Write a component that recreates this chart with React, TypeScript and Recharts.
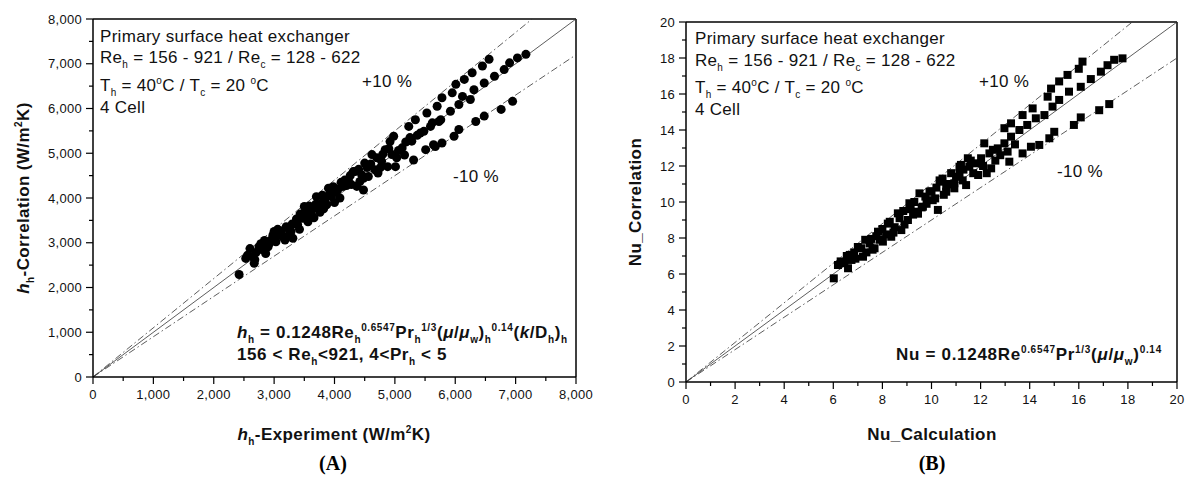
import React from 'react';
import { ScatterChart, Scatter, XAxis, YAxis, ZAxis, ReferenceLine } from 'recharts';

// (A) h_h experiment vs correlation, W/m2K
const hPoints: [number, number][] = [
  [2420, 2290], [2530, 2650], [2560, 2720], [2600, 2870], [2640, 2690], [2670, 2540],
  [2680, 2620], [2700, 2780], [2750, 2910], [2780, 2980], [2800, 2850], [2840, 3050],
  [2860, 2760], [2900, 2910], [2920, 2980], [2950, 3060], [2980, 3170], [3000, 3250],
  [3030, 3020], [3060, 3300], [3080, 3180], [3120, 3260], [3140, 3130], [3180, 3060],
  [3200, 3360], [3230, 3150], [3250, 3290], [3280, 3250], [3300, 3420], [3310, 3100],
  [3350, 3440], [3370, 3530], [3390, 3400], [3420, 3300], [3430, 3640], [3460, 3560],
  [3480, 3550], [3500, 3810], [3520, 3680], [3540, 3600], [3560, 3470], [3580, 3820],
  [3600, 3700], [3620, 3620], [3640, 3760], [3660, 3560], [3690, 3860], [3700, 4030],
  [3730, 3770], [3760, 3680], [3780, 3880], [3800, 4060], [3820, 3760], [3840, 3960],
  [3870, 3850], [3900, 4220], [3920, 4080], [3950, 4030], [3980, 4250], [4000, 3900],
  [4030, 4140], [4060, 4200], [4090, 4000], [4110, 4350], [4140, 4260], [4170, 4400],
  [4200, 4280], [4230, 4410], [4260, 4500], [4280, 4300], [4310, 4590], [4340, 4590],
  [4370, 4260], [4400, 4640], [4420, 4370], [4450, 4520], [4480, 4180], [4480, 4440],
  [4500, 4780], [4540, 4680], [4560, 4480], [4600, 4760], [4620, 4970], [4670, 4630],
  [4700, 4900], [4720, 4560], [4760, 4680], [4780, 4820], [4800, 4980], [4840, 5080],
  [4880, 4700], [4900, 5100], [4920, 5260], [4950, 4970], [4980, 5380], [5010, 4700],
  [5030, 4900], [5060, 5060], [5120, 5120], [5160, 4960], [5180, 5250], [5230, 5600],
  [5250, 5350], [5280, 5270], [5310, 4850], [5340, 5750], [5370, 5400], [5420, 5450],
  [5480, 5490], [5510, 5080], [5530, 5900], [5590, 5600], [5620, 5680], [5640, 5190],
  [5670, 5150], [5700, 6050], [5730, 5710], [5760, 5750], [5780, 5230], [5780, 6240],
  [5920, 5940], [5950, 6350], [5980, 5380], [6010, 6540], [6060, 5530], [6060, 6090],
  [6120, 6270], [6150, 6650], [6250, 6200], [6280, 6800], [6310, 6420], [6340, 5710],
  [6450, 6950], [6480, 6570], [6480, 5830], [6560, 7100], [6650, 6720], [6760, 5980],
  [6810, 6870], [6900, 7020], [6950, 6160], [7030, 7130], [7170, 7210],
];

// (B) Nu calculation vs correlation
const nuPoints: [number, number][] = [
  [6.02, 5.76], [6.19, 6.5], [6.3, 6.7], [6.45, 6.6], [6.55, 7.0], [6.6, 6.32],
  [6.67, 7.06], [6.74, 6.78], [6.85, 7.2], [6.9, 6.85], [7.0, 7.5], [7.14, 7.43],
  [7.21, 6.96], [7.3, 7.9], [7.35, 7.2], [7.48, 7.7], [7.55, 7.95], [7.6, 7.35],
  [7.68, 7.43], [7.75, 8.1], [7.82, 8.35], [7.9, 7.9], [8.0, 8.5], [8.02, 7.8],
  [8.15, 8.2], [8.22, 8.8], [8.3, 8.9], [8.36, 8.07], [8.45, 8.3], [8.5, 8.6],
  [8.63, 9.37], [8.7, 9.1], [8.77, 8.44], [8.85, 9.5], [8.9, 8.75], [9.04, 9.0],
  [9.1, 9.93], [9.15, 9.6], [9.25, 9.3], [9.3, 10.0], [9.38, 9.46], [9.45, 9.35],
  [9.51, 10.48], [9.6, 9.7], [9.65, 9.74], [9.75, 10.3], [9.8, 9.9], [9.92, 10.57],
  [10.0, 10.6], [10.05, 10.1], [10.15, 10.2], [10.2, 10.8], [10.26, 9.56], [10.33, 11.2],
  [10.39, 11.13], [10.45, 11.3], [10.5, 10.4], [10.6, 10.57], [10.6, 10.85], [10.7, 11.0],
  [10.8, 11.6], [10.93, 10.76], [10.93, 11.04], [11.0, 11.4], [11.14, 11.96], [11.14, 11.6],
  [11.2, 12.06], [11.27, 11.2], [11.3, 11.8], [11.41, 10.94], [11.48, 12.43], [11.54, 11.96],
  [11.6, 12.3], [11.7, 11.6], [11.82, 12.15], [11.9, 11.5], [12.02, 12.43], [12.1, 12.0],
  [12.15, 13.26], [12.25, 11.6], [12.36, 12.7], [12.43, 11.87], [12.5, 12.9], [12.6, 12.3],
  [12.7, 12.98], [12.8, 12.6], [12.97, 14.1], [12.97, 13.26], [13.1, 12.8], [13.17, 12.24],
  [13.24, 14.37], [13.24, 13.63], [13.4, 13.2], [13.58, 14.0], [13.71, 14.83], [13.71, 12.7],
  [13.9, 14.28], [14.05, 13.07], [14.12, 15.2], [14.25, 14.65], [14.39, 13.17], [14.6, 14.83],
  [14.73, 15.85], [14.8, 13.54], [14.87, 16.3], [14.93, 15.3], [15.0, 13.9], [15.2, 16.7],
  [15.2, 15.67], [15.54, 17.06], [15.6, 16.13], [15.8, 14.28], [16.0, 17.4], [16.08, 16.4],
  [16.08, 14.7], [16.15, 17.8], [16.49, 16.83], [16.83, 15.1], [16.9, 17.24], [17.17, 17.6],
  [17.24, 15.44], [17.44, 17.9], [17.78, 17.98],
];

const hTicks = [0, 500, 1000, 1500, 2000, 2500, 3000, 3500, 4000, 4500, 5000, 5500, 6000, 6500, 7000, 7500, 8000];
const nuTicks = [0, 1, 2, 3, 4, 5, 6, 7, 8, 9, 10, 11, 12, 13, 14, 15, 16, 17, 18, 19, 20];

// parity line and +/-10 % band end points
const hParity = [{ x: 0, y: 0 }, { x: 8000, y: 8000 }];
const hPlus10 = [{ x: 0, y: 0 }, { x: 7273, y: 8000 }];
const hMinus10 = [{ x: 0, y: 0 }, { x: 8000, y: 7200 }];
const nuParity = [{ x: 0, y: 0 }, { x: 20, y: 20 }];
const nuPlus10 = [{ x: 0, y: 0 }, { x: 18.18, y: 20 }];
const nuMinus10 = [{ x: 0, y: 0 }, { x: 20, y: 18 }];

const FONT = '"Liberation Sans", Arial, Helvetica, sans-serif';
const DASHDOT = '7 3 1.5 3';

const toXY = (pts: [number, number][]) => pts.map(([x, y]) => ({ x, y }));

function makeTick(orient: 'left' | 'bottom', step: number, fmt: (v: number) => string) {
  return (props: any) => {
    const { x, y, payload } = props;
    const v = payload.value;
    const major = Math.abs(v / step - Math.round(v / step)) < 1e-6;
    const len = major ? 7 : 4;
    if (orient === 'left') {
      return (
        <g>
          <line x1={x - len} x2={x} y1={y} y2={y} stroke="#000" strokeWidth={1.2} />
          {major && (
            <text x={x - 11} y={y + 4.5} textAnchor="end" fontSize={13} fontFamily={FONT} fill="#111" letterSpacing={0.3}>
              {fmt(v)}
            </text>
          )}
        </g>
      );
    }
    return (
      <g>
        <line x1={x} x2={x} y1={y} y2={y + len} stroke="#000" strokeWidth={1.2} />
        {major && (
          <text x={x} y={y + 22} textAnchor="middle" fontSize={13} fontFamily={FONT} fill="#111" letterSpacing={0.3}>
            {fmt(v)}
          </text>
        )}
      </g>
    );
  };
}

const comma = (v: number) => v.toLocaleString('en-US');
const plain = (v: number) => String(v);

function T({ x, b, size = 17, bold = false, center = false, spacing = 0.3, children }: any) {
  return (
    <div
      style={{
        position: 'absolute',
        left: x,
        top: b - size * 0.8465,
        fontSize: size,
        lineHeight: `${size}px`,
        fontFamily: FONT,
        fontWeight: bold ? 700 : 400,
        letterSpacing: spacing,
        whiteSpace: 'pre',
        color: '#111',
        transform: center ? 'translateX(-50%)' : undefined,
      }}
    >
      {children}
    </div>
  );
}

const Sub = ({ children, size = 10, drop = 5 }: any) => (
  <span style={{ fontSize: size, position: 'relative', top: drop }}>{children}</span>
);
const Sup = ({ children, size = 10, rise = 7 }: any) => (
  <span style={{ fontSize: size, position: 'relative', top: -rise }}>{children}</span>
);

function Rotated({ cx, cy, children }: any) {
  return (
    <div
      style={{
        position: 'absolute',
        left: cx,
        top: cy,
        transform: 'translate(-50%, -50%) rotate(-90deg)',
        fontFamily: FONT,
        fontWeight: 700,
        fontSize: 17,
        letterSpacing: 0.4,
        whiteSpace: 'pre',
        color: '#111',
      }}
    >
      {children}
    </div>
  );
}

function Panel({ x, label }: { x: number; label: string }) {
  return (
    <div
      style={{
        position: 'absolute',
        left: x,
        top: 452,
        transform: 'translateX(-50%)',
        fontFamily: '"Liberation Serif", "Times New Roman", serif',
        fontSize: 20,
        fontWeight: 700,
        lineHeight: '22px',
        color: '#000',
      }}
    >
      ({label})
    </div>
  );
}

function InfoBlock({ x, lines }: { x: number; lines: number[] }) {
  return (
    <>
      <T x={x} b={lines[0]}>Primary surface heat exchanger</T>
      <T x={x} b={lines[1]}>
        Re<Sub>h</Sub> = 156 - 921 / Re<Sub>c</Sub> = 128 - 622
      </T>
      <T x={x} b={lines[2]}>
        T<Sub>h</Sub> = 40<Sup>o</Sup>C / T<Sub>c</Sub> = 20 <Sup>o</Sup>C
      </T>
      <T x={x} b={lines[3]}>4 Cell</T>
    </>
  );
}

export default function App() {
  const axisLine = { stroke: '#000', strokeWidth: 1.5 };
  return (
    <div style={{ position: 'absolute', left: 0, top: 0, width: 1190, height: 479, background: '#fff', overflow: 'hidden' }}>
      {/* (A) heat transfer coefficient */}
      <div style={{ position: 'absolute', left: 0, top: 0 }}>
        <ScatterChart width={600} height={479} margin={{ top: 19, right: 24, bottom: 72, left: 0 }}>
          <XAxis
            type="number"
            dataKey="x"
            domain={[0, 8000]}
            ticks={hTicks}
            interval={0}
            height={30}
            tickSize={0}
            tickMargin={0}
            tickLine={false}
            axisLine={axisLine}
            tick={makeTick('bottom', 1000, comma)}
          />
          <YAxis
            type="number"
            dataKey="y"
            domain={[0, 8000]}
            ticks={hTicks}
            interval={0}
            width={93}
            tickSize={0}
            tickMargin={0}
            tickLine={false}
            axisLine={axisLine}
            tick={makeTick('left', 1000, comma)}
          />
          <ZAxis range={[76, 76]} />
          <ReferenceLine y={8000} stroke="#000" strokeWidth={1.5} />
          <ReferenceLine x={8000} stroke="#000" strokeWidth={1.5} />
          <ReferenceLine segment={hParity} stroke="#333" strokeWidth={0.8} />
          <ReferenceLine segment={hPlus10} stroke="#333" strokeWidth={0.8} strokeDasharray={DASHDOT} />
          <ReferenceLine segment={hMinus10} stroke="#333" strokeWidth={0.8} strokeDasharray={DASHDOT} />
          <Scatter data={toXY(hPoints)} fill="#000" shape="circle" isAnimationActive={false} />
        </ScatterChart>
      </div>

      {/* (B) Nusselt number */}
      <div style={{ position: 'absolute', left: 600, top: 0 }}>
        <ScatterChart width={590} height={479} margin={{ top: 22, right: 13, bottom: 67, left: 0 }}>
          <XAxis
            type="number"
            dataKey="x"
            domain={[0, 20]}
            ticks={nuTicks}
            interval={0}
            height={30}
            tickSize={0}
            tickMargin={0}
            tickLine={false}
            axisLine={axisLine}
            tick={makeTick('bottom', 2, plain)}
          />
          <YAxis
            type="number"
            dataKey="y"
            domain={[0, 20]}
            ticks={nuTicks}
            interval={0}
            width={86}
            tickSize={0}
            tickMargin={0}
            tickLine={false}
            axisLine={axisLine}
            tick={makeTick('left', 2, plain)}
          />
          <ZAxis range={[64, 64]} />
          <ReferenceLine y={20} stroke="#000" strokeWidth={1.5} />
          <ReferenceLine x={20} stroke="#000" strokeWidth={1.5} />
          <ReferenceLine segment={nuParity} stroke="#333" strokeWidth={0.8} />
          <ReferenceLine segment={nuPlus10} stroke="#333" strokeWidth={0.8} strokeDasharray={DASHDOT} />
          <ReferenceLine segment={nuMinus10} stroke="#333" strokeWidth={0.8} strokeDasharray={DASHDOT} />
          <Scatter data={toXY(nuPoints)} fill="#000" shape="square" isAnimationActive={false} />
        </ScatterChart>
      </div>

      {/* annotations, left */}
      <InfoBlock x={100} lines={[42, 63, 91, 113]} />
      <T x={362} b={87}>+10 %</T>
      <T x={453} b={182}>-10 %</T>
      <T x={237} b={338} bold spacing={0.6}>
        <i>h</i><Sub>h</Sub> = 0.1248Re<Sub>h</Sub><Sup>0.6547</Sup>Pr<Sub>h</Sub><Sup>1/3</Sup>(<i>μ</i>/<i>μ</i><Sub>w</Sub>)<Sub>h</Sub><Sup>0.14</Sup>(<i>k</i>/D<Sub>h</Sub>)<Sub>h</Sub>
      </T>
      <T x={237} b={360} bold spacing={0.6}>
        156 &lt; Re<Sub>h</Sub>&lt;921, 4&lt;Pr<Sub>h</Sub> &lt; 5
      </T>
      <T x={334} b={440} bold center spacing={0.4}>
        <i>h</i><Sub>h</Sub>-Experiment (W/m<Sup>2</Sup>K)
      </T>
      <Rotated cx={24} cy={198}>
        <i>h</i><Sub>h</Sub>-Correlation (W/m<Sup>2</Sup>K)
      </Rotated>
      <Panel x={333} label="A" />

      {/* annotations, right */}
      <InfoBlock x={695} lines={[44, 66, 93, 115]} />
      <T x={979} b={87}>+10 %</T>
      <T x={1057} b={177}>-10 %</T>
      <T x={896} b={360} bold spacing={0.7}>
        Nu = 0.1248Re<Sup>0.6547</Sup>Pr<Sup>1/3</Sup>(<i>μ</i>/<i>μ</i><Sub>w</Sub>)<Sup>0.14</Sup>
      </T>
      <T x={932} b={440} bold center spacing={0.4}>
        Nu_Calculation
      </T>
      <Rotated cx={636} cy={202}>Nu_Correlation</Rotated>
      <Panel x={932} label="B" />
    </div>
  );
}
